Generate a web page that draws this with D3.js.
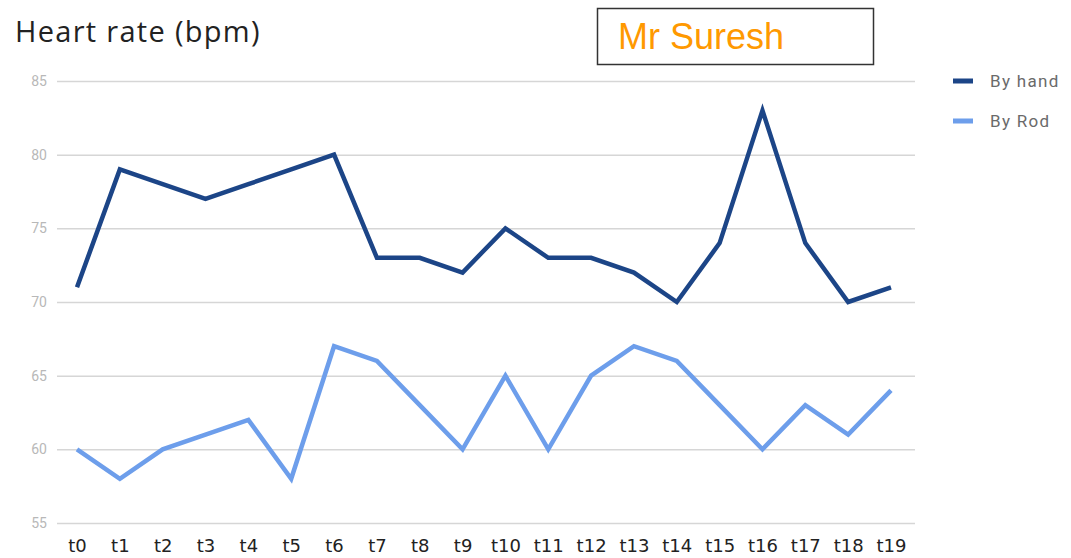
<!DOCTYPE html>
<html>
<head>
<meta charset="utf-8">
<script src="https://cdn.jsdelivr.net/npm/d3@7"></script>
<style>
  html, body { margin: 0; padding: 0; background: #fff; }
  svg { display: block; font-family: Roboto, "Noto Sans", Arial, sans-serif; }
</style>
</head>
<body>
<svg id="chart" width="1071" height="558"></svg>
<script>
// Time points and readings
const categories = ["t0","t1","t2","t3","t4","t5","t6","t7","t8","t9","t10","t11","t12","t13","t14","t15","t16","t17","t18","t19"];
const byHand = [71, 79, 78, 77, 78, 79, 80, 73, 73, 72, 75, 73, 73, 72, 70, 74, 83, 74, 70, 71];
const byRod  = [60, 58, 60, 61, 62, 58, 67, 66, 63, 60, 65, 60, 65, 67, 66, 63, 60, 63, 61, 64];
const yTicks = [55, 60, 65, 70, 75, 80, 85];
const seriesNames = ["By hand", "By Rod"];
const seriesColors = ["#1c4587", "#6d9eeb"];

const svg = d3.select("#chart");

const gridLeft = 57, gridRight = 915;
const x = d3.scalePoint().domain(categories).range([77, 891]);
const y = d3.scaleLinear().domain([55, 85]).range([523, 81]);

// Title
svg.append("text")
  .attr("x", 15).attr("y", 42)
  .attr("font-family", "'Open Sans', sans-serif")
  .attr("font-size", 29)
  .attr("letter-spacing", 1.3)
  .attr("fill", "#222")
  .text("Heart rate (bpm)");

// Name box
svg.append("rect")
  .attr("x", 597.5).attr("y", 8.5)
  .attr("width", 276).attr("height", 56)
  .attr("fill", "#fff").attr("stroke", "#333").attr("stroke-width", 1.5);
svg.append("text")
  .attr("x", 618).attr("y", 49)
  .attr("font-family", "'Liberation Sans', Arial, sans-serif")
  .attr("font-size", 36)
  .attr("fill", "#ff9900")
  .text("Mr Suresh");

// Horizontal gridlines and y labels
const yAxis = d3.axisLeft(y).tickValues(yTicks).tickSize(-(gridRight - gridLeft)).tickPadding(10);
const gy = svg.append("g").attr("transform", `translate(${gridLeft},0)`).call(yAxis);
gy.select(".domain").remove();
gy.selectAll(".tick line").attr("stroke", "#d6d6d6").attr("stroke-width", 1.5);
gy.selectAll(".tick text").attr("fill", "#b8b8b8").attr("font-size", 14).attr("font-family", "Roboto, sans-serif");

// x labels
const xAxis = d3.axisBottom(x).tickSize(0).tickPadding(0);
const gx = svg.append("g").attr("transform", "translate(0,539)").call(xAxis);
gx.select(".domain").remove();
gx.selectAll(".tick text").attr("fill", "#222").attr("font-size", 18).attr("font-family", "'DejaVu Sans', sans-serif");

// Lines
const line = d3.line().x((d, i) => x(categories[i])).y(d => y(d));
[byHand, byRod].forEach((vals, k) => {
  svg.append("path")
    .datum(vals)
    .attr("fill", "none")
    .attr("stroke", seriesColors[k])
    .attr("stroke-width", 4.5)
    .attr("stroke-linejoin", "miter")
    .attr("d", line);
});

// Legend
seriesNames.forEach((name, k) => {
  const ly = 81 + k * 40;
  svg.append("rect")
    .attr("x", 953).attr("y", ly - 2.5)
    .attr("width", 20).attr("height", 5)
    .attr("fill", seriesColors[k]);
  svg.append("text")
    .attr("x", 990).attr("y", ly + 6)
    .attr("font-size", 17)
    .attr("letter-spacing", 1.3)
    .attr("fill", "#6a6a6a")
    .text(name);
});
</script>
</body>
</html>
